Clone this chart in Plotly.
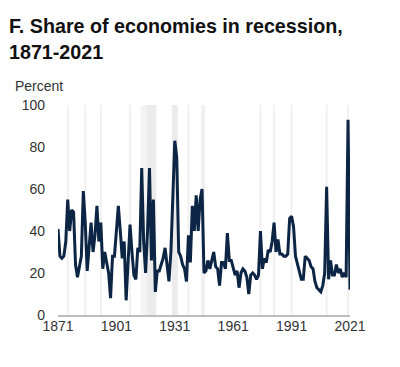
import plotly.graph_objects as go

years = list(range(1871, 2022))
share = [
    41, 28, 27, 28, 35, 55, 40, 50, 49, 24,   # 1871-1880
    18, 24, 28, 59, 44, 21, 32, 44, 30, 38,   # 1881-1890
    52, 35, 44, 22, 30, 25, 20, 8, 28, 28,    # 1891-1900
    40, 52, 40, 27, 35, 7, 25, 43, 30, 19,    # 1901-1910
    17, 32, 30, 70, 35, 20, 40, 70, 26, 55,   # 1911-1920
    11, 21, 21, 24, 27, 32, 25, 16, 30, 53,   # 1921-1930
    83, 75, 30, 28, 24, 22, 16, 38, 25, 52,   # 1931-1940
    40, 57, 40, 55, 60, 20, 21, 26, 22, 26,   # 1941-1950
    30, 23, 22, 14, 25, 25, 22, 39, 26, 26,   # 1951-1960
    22, 19, 21, 13, 20, 22, 21, 18, 10, 19,   # 1961-1970
    20, 19, 17, 19, 40, 22, 27, 25, 31, 30,   # 1971-1980
    35, 44, 30, 36, 29, 29, 28, 28, 29, 46,   # 1981-1990
    47, 42, 28, 24, 20, 17, 17, 28, 27, 26,   # 1991-2000
    23, 22, 16, 13, 12, 11, 14, 20, 61, 17,   # 2001-2010
    26, 19, 19, 24, 20, 22, 18, 20, 18, 93,   # 2011-2020
    12,                                        # 2021
]
recession_start = [1876, 1885, 1893, 1908, 1914, 1917, 1930, 1938, 1945, 1975, 1982, 1991, 2009, 2020]
recession_end   = [1876, 1885, 1893, 1908, 1916, 1921, 1932, 1938, 1946, 1975, 1982, 1991, 2009, 2020]
recession_shade = ["#f0f0f0"] * 4 + ["#f3f3f3", "#ebebeb", "#ebebeb"] + ["#f0f0f0"] * 7
x_ticks = [1871, 1901, 1931, 1961, 1991, 2021]
y_ticks = [0, 20, 40, 60, 80, 100]

FONT = "Liberation Sans, Arial, sans-serif"

fig = go.Figure()
fig.add_trace(go.Scatter(
    x=years, y=share, mode="lines",
    line=dict(color="#0c2544", width=3),
    hoverinfo="skip", showlegend=False,
))

shapes = []
for s, e, c in zip(recession_start, recession_end, recession_shade):
    shapes.append(dict(type="rect", xref="x", yref="y",
                       x0=s - 0.5, x1=e + 0.5, y0=0, y1=100,
                       fillcolor=c, line=dict(width=0), layer="below"))

fig.update_layout(
    width=392, height=359,
    margin=dict(l=50, r=50, t=97, b=52),
    paper_bgcolor="white", plot_bgcolor="white",
    shapes=shapes,
    font=dict(family=FONT, size=14, color="#333333"),
    annotations=[
        dict(text="<b>F. Share of economies in recession,<br>1871-2021</b>",
             xref="paper", yref="paper", x=-0.175, y=1.44,
             xanchor="left", yanchor="top", align="left", showarrow=False,
             font=dict(family=FONT, size=19.7, color="#111111")),
        dict(text="Percent", xref="paper", yref="paper",
             x=-0.155, y=1.045, xanchor="left", yanchor="bottom",
             showarrow=False,
             font=dict(family=FONT, size=14, color="#333333")),
    ],
    xaxis=dict(range=[1871, 2021], tickvals=x_ticks, ticktext=[str(t) for t in x_ticks],
               showgrid=False, zeroline=False, showline=True,
               linecolor="#bdbdbd", linewidth=1.5, ticks="", ticklabelstandoff=-3,
               tickfont=dict(family=FONT, size=14, color="#333333")),
    yaxis=dict(range=[0, 100], tickvals=y_ticks, showgrid=False, zeroline=False,
               showline=False, ticks="", ticklabelstandoff=12,
               tickfont=dict(family=FONT, size=14, color="#333333")),
)

fig.write_html("out.html")
